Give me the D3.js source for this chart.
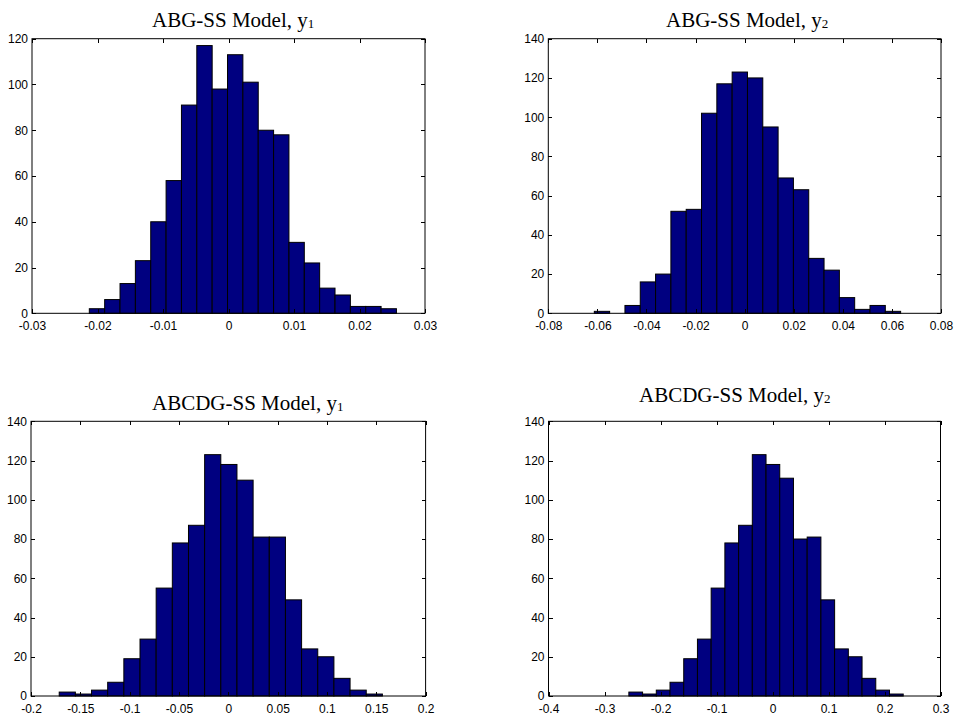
<!DOCTYPE html>
<html lang="en">
<meta charset="utf-8">
<head>
    <style>
        body { margin: 0; background: #fff; }
        .axis text { font: 12px "Liberation Sans", Arial, sans-serif; fill: #000; }
        .axis line { stroke: #000; shape-rendering: crispEdges; }
        .title { font: 21px "Liberation Serif", "Times New Roman", serif; fill: #000; }
    </style>
    <title></title>
</head>
<body>
<script src="https://cdnjs.cloudflare.com/ajax/libs/d3/7.8.5/d3.min.js"></script>
<script>

  // histogram counts (20 bins each)
  const abgY1 = [2, 6, 13, 23, 40, 58, 91, 117, 98, 113, 101, 80, 78, 31, 22, 11, 8, 3, 3, 2];
  const abgY2 = [1, 0, 4, 16, 20, 52, 53, 102, 117, 123, 120, 95, 69, 63, 28, 22, 8, 2, 4, 1];
  const abcdgY1 = [2, 1, 3, 7, 19, 29, 55, 78, 87, 123, 118, 110, 81, 81, 49, 24, 20, 9, 3, 1];
  const abcdgY2 = [2, 1, 3, 7, 19, 29, 55, 78, 87, 123, 118, 111, 80, 81, 49, 24, 20, 9, 3, 1];

  // bin range [first edge, last edge] of each histogram
  const abgY1Range = [-0.02125, 0.02564];
  const abgY2Range = [-0.06125, 0.06355];
  const abcdgY1Range = [-0.1714, 0.1562];
  const abcdgY2Range = [-0.2565, 0.2334];

  // axis limits and tick values
  const abgY1Ticks = [-0.03, -0.02, -0.01, 0, 0.01, 0.02, 0.03];
  const abgY2Ticks = [-0.08, -0.06, -0.04, -0.02, 0, 0.02, 0.04, 0.06, 0.08];
  const abcdgY1Ticks = [-0.2, -0.15, -0.1, -0.05, 0, 0.05, 0.1, 0.15, 0.2];
  const abcdgY2Ticks = [-0.4, -0.3, -0.2, -0.1, 0, 0.1, 0.2, 0.3];
  const countTicks120 = [0, 20, 40, 60, 80, 100, 120];
  const countTicks140 = [0, 20, 40, 60, 80, 100, 120, 140];

  const titles = ["ABG-SS Model, y", "ABG-SS Model, y", "ABCDG-SS Model, y", "ABCDG-SS Model, y"];
  const subs = ["1", "2", "1", "2"];

  const panels = [
    {counts: abgY1, range: abgY1Range, xt: abgY1Ticks, yt: countTicks120,
     box: [32, 38.7, 425, 313.3], title: [152, 27]},
    {counts: abgY2, range: abgY2Range, xt: abgY2Ticks, yt: countTicks140,
     box: [548.3, 38.7, 941, 313.3], title: [666, 27]},
    {counts: abcdgY1, range: abcdgY1Range, xt: abcdgY1Ticks, yt: countTicks140,
     box: [31, 421.3, 425.6, 696], title: [152, 410]},
    {counts: abcdgY2, range: abcdgY2Range, xt: abcdgY2Ticks, yt: countTicks140,
     box: [548.5, 421.3, 940.5, 696], title: [639, 402]}
  ];

  const svg = d3.select("body").append("svg")
          .attr("width", 955)
          .attr("height", 717);

  panels.forEach(function (p, i) {
      const [x0, y0, x1, y1] = p.box;
      const x = d3.scaleLinear()
              .domain([p.xt[0], p.xt[p.xt.length - 1]])
              .range([x0, x1]);
      const y = d3.scaleLinear()
              .domain([p.yt[0], p.yt[p.yt.length - 1]])
              .range([y1, y0]);

      const n = p.counts.length;
      const w = (p.range[1] - p.range[0]) / n;
      const bins = p.counts.map(function (c, k) {
          return {lo: p.range[0] + k * w, hi: p.range[0] + (k + 1) * w, c: c};
      });

      const g = svg.append("g");

      g.selectAll("rect.bar")
          .data(bins)
          .enter().append("rect")
          .attr("class", "bar")
          .attr("x", function (d) { return x(d.lo); })
          .attr("width", function (d) { return x(d.hi) - x(d.lo); })
          .attr("y", function (d) { return y(d.c); })
          .attr("height", function (d) { return y(0) - y(d.c); })
          .style("fill", "#000080")
          .style("stroke", "#000")
          .style("stroke-width", 1);

      // MATLAB style: ticks inside on all four sides
      g.append("g")
          .attr("class", "axis")
          .attr("transform", "translate(0," + y1 + ")")
          .call(d3.axisBottom(x).tickValues(p.xt).tickSize(-4).tickSizeOuter(0).tickPadding(8)
              .tickFormat(d3.format("")));
      g.append("g")
          .attr("class", "axis")
          .attr("transform", "translate(0," + y0 + ")")
          .call(d3.axisTop(x).tickValues(p.xt).tickSize(-4).tickSizeOuter(0).tickFormat(""));
      g.append("g")
          .attr("class", "axis")
          .attr("transform", "translate(" + x0 + ",0)")
          .call(d3.axisLeft(y).tickValues(p.yt).tickSize(-4).tickSizeOuter(0).tickPadding(4));
      g.append("g")
          .attr("class", "axis")
          .attr("transform", "translate(" + x1 + ",0)")
          .call(d3.axisRight(y).tickValues(p.yt).tickSize(-4).tickSizeOuter(0).tickFormat(""));

      g.selectAll(".axis .domain").remove();
      g.selectAll(".axis text").text(function () {
          return this.textContent.replace("−", "-");
      });

      g.append("rect")
          .attr("x", x0)
          .attr("y", y0)
          .attr("width", x1 - x0)
          .attr("height", y1 - y0)
          .style("fill", "none")
          .style("stroke", "#000")
          .style("stroke-width", 1);

      const t = g.append("text")
          .attr("class", "title")
          .attr("x", p.title[0])
          .attr("y", p.title[1]);
      t.append("tspan").text(titles[i]);
      t.append("tspan").attr("dy", 1).style("font-size", "13px").text(subs[i]);
  });

</script>
</body>
</html>
